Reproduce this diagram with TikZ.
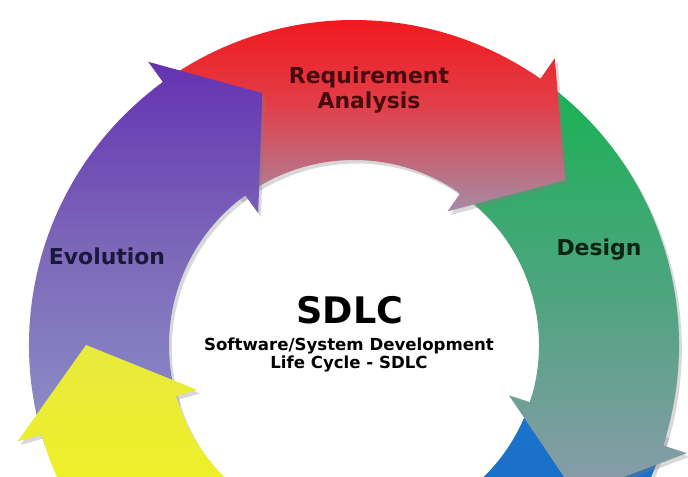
\documentclass[tikz,border=0pt]{standalone}
\usepackage{fontspec}
\setmainfont{DejaVu Sans}
\usetikzlibrary{shadows}
\definecolor{reqtop}{RGB}{245,15,18}
\definecolor{reqmid}{RGB}{226,62,72}
\definecolor{reqbot}{RGB}{165,140,165}
\definecolor{destop}{RGB}{22,178,82}
\definecolor{desmid}{RGB}{75,165,125}
\definecolor{desbot}{RGB}{140,155,172}
\definecolor{evotop}{RGB}{100,50,178}
\definecolor{evomid}{RGB}{125,105,185}
\definecolor{evobot}{RGB}{140,145,200}
\definecolor{imptop}{RGB}{28,118,205}
\definecolor{impmid}{RGB}{25,105,195}
\definecolor{impbot}{RGB}{20,90,180}
\definecolor{tsttop}{RGB}{232,234,62}
\definecolor{tstmid}{RGB}{240,240,35}
\definecolor{tstbot}{RGB}{245,244,15}
\definecolor{reqtext}{RGB}{70,10,15}
\definecolor{evotext}{RGB}{25,25,60}
\definecolor{destext}{RGB}{10,35,20}
\tikzstyle{band}=[drop shadow={shadow xshift=2pt,shadow yshift=-2.5pt,opacity=.3}]
\tikzstyle{phase}=[font=\bfseries\fontsize{15.6}{17.8}\selectfont,align=center]
\tikzstyle{hub}=[font=\bfseries\fontsize{26}{30}\selectfont]
\tikzstyle{sub}=[font=\bfseries\fontsize{11.8}{12.8}\selectfont,align=center]

\begin{document}
\begin{tikzpicture}[x=0.025cm,y=0.025cm]
    \useasboundingbox (0,0) rectangle (688,476);
    \clip (0,0) rectangle (688,476);
    \fill[white] (0,0) rectangle (688,476);
    \coordinate (c) at (354,131);

    % ring of phase arrows, each tail hidden under the one before
    \begin{scope}[shift={(c)}]
    \foreach \st/\bk/\tp/\clr in {-16/-90/-106/imp, 57/-18/-34/des,
    128/55/38/req, 198/126/110/evo, 272/196/180/tst}
        \path[band,top color=\clr top,bottom color=\clr bot,middle color=\clr mid]
            (\st:325) arc[start angle=\st,end angle=\bk,radius=325]
            -- (\bk:350) -- (\tp:268) -- (\bk:163)
            -- (\bk:185) arc[start angle=\bk,end angle=\st,radius=185] -- cycle;
    \end{scope}

    \foreach \pos/\name/\clr/\val in {{(369,386)/req/reqtext/Requirement\\Analysis},
    {(107,220)/evo/evotext/Evolution}, {(599,226)/des/destext/Design}}
        \node[phase,text=\clr] (\name) at \pos {\val};

    \node[hub] (sdlc) at (350,166) {SDLC};
    \node[sub] (full) at (349,121) {Software/System Development\\Life Cycle - SDLC};
\end{tikzpicture}
\end{document}
